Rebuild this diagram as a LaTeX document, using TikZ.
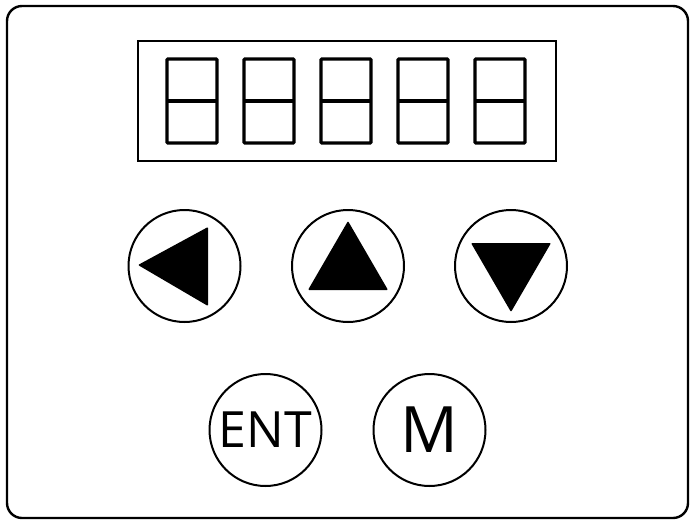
\documentclass[tikz,border=0pt]{standalone}
\usepackage{fontspec}
\setsansfont{Open Sans}
\begin{document}
\begin{tikzpicture}[
	x=1pt, y=-1pt,
	panel/.style={draw=black,line width=2.4pt,rounded corners=15pt},
	screen/.style={draw=black,line width=2pt},
	digit/.style={draw=black,line width=3.2pt,rounded corners=1pt},
	key/.style={circle,draw=black,line width=2pt,
	inner sep=0pt,minimum size=112pt,font=\sffamily},
	arrowhead/.style={fill=black,rounded corners=1pt},
	]
	\useasboundingbox (0,0) rectangle (695,524);
	\draw[panel] (7,6) rectangle (688,518);
	\draw[screen] (138,41) rectangle (556,161);
	% five digit cells
	\foreach \i in {0,...,4} {
		\draw[digit] (167+77*\i,59) rectangle (217+77*\i,143);
		\draw[digit] (167+77*\i,101) -- (217+77*\i,101);
	}
	\node[key] (left) at (184.5,266) {};
	\node[key] (up) at (348,266) {};
	\node[key] (down) at (511,266) {};
	\node[key, font=\sffamily\fontsize{50}{50}\selectfont] (ent) at (265.5,430) {ENT};
	\node[key, font=\sffamily\fontsize{64}{64}\selectfont] (mode) at (429.5,430) {M};
	% arrows inside keys
	\fill[arrowhead] (138,265) -- (208,227) -- (208,306) -- cycle;
	\fill[arrowhead] (348,221) -- (388,290) -- (308,290) -- cycle;
	\fill[arrowhead] (471,243) -- (551,243) -- (511,312) -- cycle;
\end{tikzpicture}
\end{document}
